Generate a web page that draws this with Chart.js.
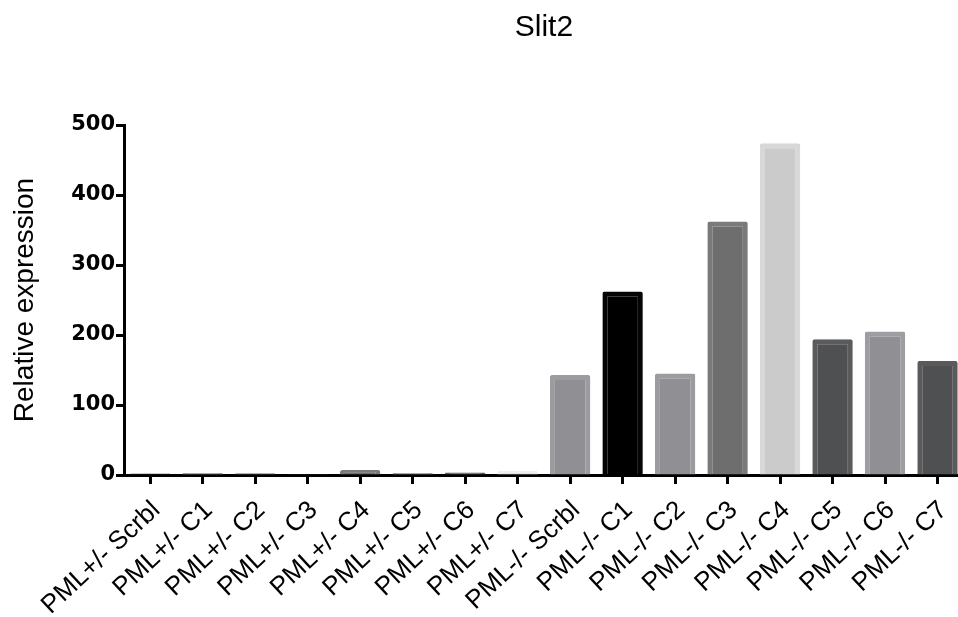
<!DOCTYPE html>
<html lang="en">
<head>
    <meta charset="UTF-8">
    <title>Slit2</title>
    <script src="https://cdn.jsdelivr.net/npm/chart.js"></script>
    <style>
        body {
            margin: 0;
            background-color: white;
            overflow: hidden;
        }
        .chart-container {
            width: 970px;
            height: 617px;
        }
    </style>
</head>
<body>
    <div class="chart-container">
        <canvas id="barChart"></canvas>
    </div>

    <script>
        // Values
        const categories = [
            'PML+/- Scrbl', 'PML+/- C1', 'PML+/- C2', 'PML+/- C3',
            'PML+/- C4', 'PML+/- C5', 'PML+/- C6', 'PML+/- C7',
            'PML-/- Scrbl', 'PML-/- C1', 'PML-/- C2', 'PML-/- C3',
            'PML-/- C4', 'PML-/- C5', 'PML-/- C6', 'PML-/- C7'
        ];
        const expression = [
            2, 3, 2.5, 1, 7, 3, 3.5, 6,
            143, 262, 145, 362, 474, 194, 205, 163
        ];
        const yTicks = [0, 100, 200, 300, 400, 500];

        const fillColors = [
            '#2b2b2b', '#909094', '#6e6e6e', '#a8a8a8', '#6e6e6e', '#909094', '#4f5052', '#e6e6e6',
            '#909094', '#000000', '#909094', '#6e6e6e', '#cbcbcb', '#4f5052', '#909094', '#4f5052'
        ];
        const edgeColors = [
            '#333333', '#9c9ca0', '#7a7a7a', '#b4b4b4', '#7a7a7a', '#9c9ca0', '#5a5a5c', '#eeeeee',
            '#9c9ca0', '#050505', '#9c9ca0', '#7a7a7a', '#d8d8d8', '#5a5a5c', '#9e9ea2', '#5a5a5c'
        ];

        const ctx = document.getElementById('barChart').getContext('2d');
        new Chart(ctx, {
            type: 'bar',
            data: {
                labels: categories,
                datasets: [{
                    data: expression,
                    backgroundColor: fillColors,
                    borderColor: edgeColors,
                    borderWidth: 5,
                    borderRadius: 2,
                    barPercentage: 0.77,
                    categoryPercentage: 1
                }]
            },
            options: {
                responsive: true,
                maintainAspectRatio: false,
                animation: false,
                layout: { padding: 0 },
                plugins: {
                    legend: { display: false },
                    tooltip: { enabled: false },
                    title: {
                        display: true,
                        text: 'Slit2',
                        fullSize: false,
                        color: '#000',
                        font: { family: 'Liberation Sans, Arial', size: 30, weight: 'normal', lineHeight: 1.2 },
                        padding: { top: 10, bottom: 79 }
                    }
                },
                scales: {
                    x: {
                        z: 1,
                        grid: {
                            offset: false,
                            drawOnChartArea: false,
                            drawTicks: true,
                            tickLength: 9,
                            tickWidth: 3,
                            tickColor: '#000'
                        },
                        border: { display: true, color: '#000', width: 3 },
                        ticks: {
                            color: '#000',
                            minRotation: 43,
                            maxRotation: 43,
                            padding: 11,
                            labelOffset: 6,
                            font: { family: 'Liberation Sans, Arial', size: 26 }
                        },
                        afterFit: function (scale) { scale.height = 142; }
                    },
                    y: {
                        min: 0,
                        max: 500,
                        afterBuildTicks: function (scale) {
                            scale.ticks = yTicks.map(v => ({ value: v }));
                        },
                        grid: {
                            drawOnChartArea: false,
                            drawTicks: true,
                            tickLength: 8,
                            tickWidth: 3,
                            tickColor: '#000'
                        },
                        border: { display: true, color: '#000', width: 3 },
                        ticks: {
                            color: '#000',
                            padding: 1,
                            font: { family: 'DejaVu Sans', size: 21, weight: 'bold' }
                        },
                        title: {
                            display: true,
                            text: 'Relative expression',
                            color: '#000',
                            font: { family: 'Liberation Sans, Arial', size: 28, lineHeight: 1.2 },
                            padding: { top: 8, bottom: 0 }
                        },
                        afterFit: function (scale) { scale.width = 124; }
                    }
                }
            }
        });
    </script>
</body>
</html>
